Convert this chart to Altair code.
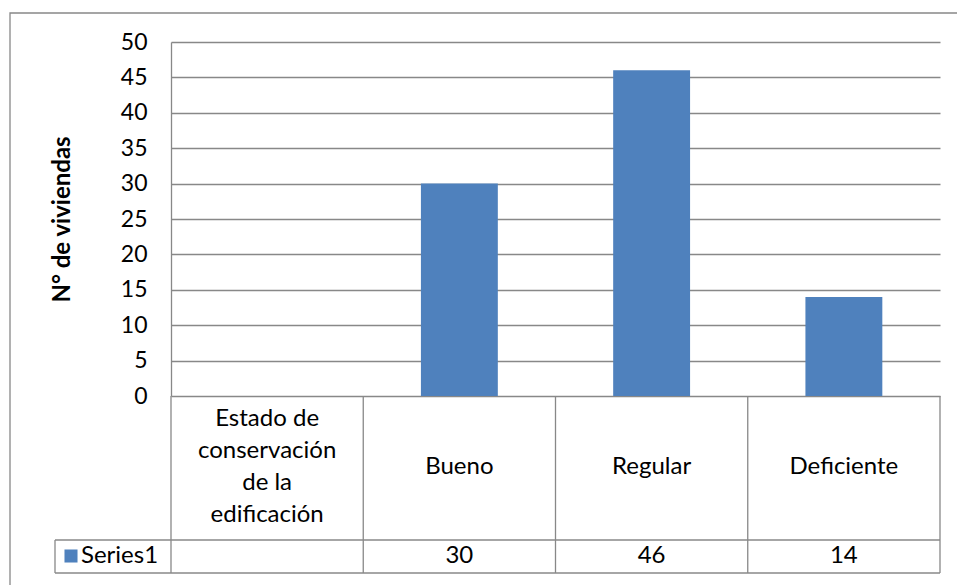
import altair as alt
import pandas as pd

# Categories shown along the bottom (first column is the row header of the data table)
categories = ["Estado de conservación de la edificación", "Bueno", "Regular", "Deficiente"]
header_text = ["Estado de\nconservación\nde la\nedificación", "Bueno", "Regular", "Deficiente"]
values = [None, 30, 46, 14]
series_name = "Series1"
y_ticks = [0, 5, 10, 15, 20, 25, 30, 35, 40, 45, 50]

df = pd.DataFrame({
    "cat": categories,
    "header": header_text,
    "value": values,
    "label": ["" if v is None else str(v) for v in values],
})

BAR = "#4F81BD"
LINE = "#888888"
FONT = "Lato"
FS = 23
FS_TABLE = 24
LH = 32

W, H = 769, 354
HEADER_MID = 425

x_enc = alt.X("cat:N", sort=categories,
              scale=alt.Scale(paddingInner=0, paddingOuter=0), axis=None)

base = alt.Chart(df)

bars = base.mark_bar(color=BAR, width=alt.RelativeBandSize(0.4)).encode(
    x=x_enc,
    y=alt.Y("value:Q",
            scale=alt.Scale(domain=[0, 50], nice=False),
            axis=alt.Axis(values=y_ticks, title="N° de viviendas",
                          grid=True, gridColor=LINE, gridWidth=1.3,
                          ticks=False, domain=True, domainColor=LINE, domainWidth=1.3,
                          labelFont=FONT, labelFontSize=FS, labelColor="black",
                          labelPadding=24,
                          titleFont=FONT, titleFontSize=24, titleFontWeight="bold",
                          titleColor="black", titleAngle=-90,
                          titleX=-109, titleY=H / 2,
                          titleAlign="center", titleBaseline="middle")),
)

# data table: vertical separators at the start of each category band
vlines = base.mark_rule(color=LINE, strokeWidth=1.3).encode(
    x=alt.X("cat:N", sort=categories, bandPosition=0,
            scale=alt.Scale(paddingInner=0, paddingOuter=0), axis=None),
    y=alt.value(H),
    y2=alt.value(531),
)

row = alt.Chart(pd.DataFrame({"series": [series_name]}))

right_edge = row.mark_rule(color=LINE, strokeWidth=1.3).encode(
    x=alt.value(W), y=alt.value(H), y2=alt.value(531))
legend_edge = row.mark_rule(color=LINE, strokeWidth=1.3).encode(
    x=alt.value(-116), y=alt.value(498), y2=alt.value(531))
hline_mid = row.mark_rule(color=LINE, strokeWidth=1.3).encode(
    x=alt.value(-116), x2=alt.value(W), y=alt.value(498))
hline_bot = row.mark_rule(color=LINE, strokeWidth=1.3).encode(
    x=alt.value(-116), x2=alt.value(W), y=alt.value(531))

# header cells: multi-line blocks are vertically centred in the header row
headers = base.transform_calculate(
    nlines="length(split(datum.header, '\\n'))",
    ypix=f"{HEADER_MID} - (datum.nlines - 1) * {LH / 2}",
).mark_text(font=FONT, fontSize=FS_TABLE, lineBreak="\n", lineHeight=LH,
            baseline="middle", align="center", color="black").encode(
    x=x_enc, y=alt.Y("ypix:Q", scale=None), text="header:N")

cells = base.mark_text(font=FONT, fontSize=FS_TABLE, baseline="middle",
                       align="center", color="black").encode(
    x=x_enc, y=alt.value(514), text="label:N")

legend_sym = row.mark_point(shape="square", filled=True, size=170, color=BAR,
                            opacity=1).encode(x=alt.value(-100), y=alt.value(514))
legend_txt = row.mark_text(font=FONT, fontSize=FS_TABLE, baseline="middle",
                           align="left", color="black").encode(
    x=alt.value(-90), y=alt.value(514), text="series:N")

frame = row.mark_rect(fill=None, stroke=LINE, strokeWidth=1.3).encode(
    x=alt.value(-161), y=alt.value(-29), x2=alt.value(W + 40), y2=alt.value(H + 220))

chart = alt.layer(
    frame, bars, vlines, right_edge, legend_edge, hline_mid, hline_bot,
    headers, cells, legend_sym, legend_txt,
).properties(
    width=W, height=H,
    padding={"left": 171, "top": 42, "right": 17, "bottom": 189},
    autosize=alt.AutoSizeParams(type="none"),
    background="white",
).configure_view(stroke=None)

chart.save("out.html", embed_options={"renderer": "svg", "actions": False})
